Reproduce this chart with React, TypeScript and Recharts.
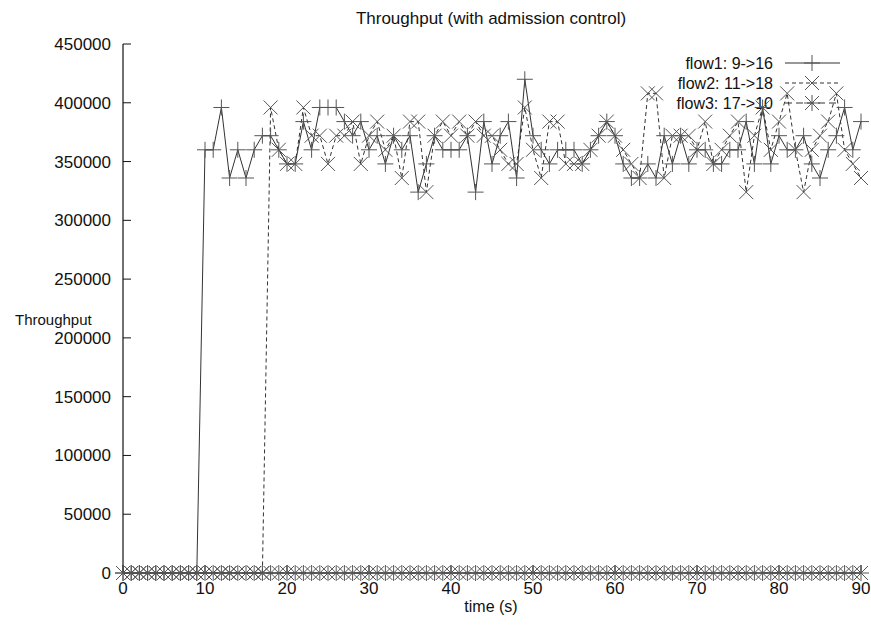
import React from 'react';
import { LineChart, Line, XAxis, YAxis, Customized } from 'recharts';

// sample times (s)
const TIME = [
  0, 1, 2, 3, 4, 5, 6, 7, 8, 9, 10, 11, 12, 13, 14, 15, 16, 17, 18, 19,
  20, 21, 22, 23, 24, 25, 26, 27, 28, 29, 30, 31, 32, 33, 34, 35, 36, 37, 38, 39,
  40, 41, 42, 43, 44, 45, 46, 47, 48, 49, 50, 51, 52, 53, 54, 55, 56, 57, 58, 59,
  60, 61, 62, 63, 64, 65, 66, 67, 68, 69, 70, 71, 72, 73, 74, 75, 76, 77, 78, 79,
  80, 81, 82, 83, 84, 85, 86, 87, 88, 89, 90,
];

// flow1: 9->16
const FLOW1 = [
  0, 0, 0, 0, 0, 0, 0, 0, 0, 0,
  360000, 360000, 396000, 336000, 360000, 336000, 360000, 372000, 372000, 360000,
  348000, 348000, 384000, 360000, 396000, 396000, 396000, 384000, 372000, 384000,
  360000, 372000, 348000, 372000, 360000, 372000, 324000, 348000, 372000, 360000,
  360000, 360000, 372000, 324000, 384000, 348000, 372000, 384000, 336000, 420000,
  372000, 360000, 348000, 360000, 360000, 360000, 348000, 360000, 372000, 384000,
  372000, 348000, 336000, 336000, 348000, 336000, 372000, 348000, 372000, 348000,
  360000, 360000, 348000, 348000, 360000, 360000, 384000, 348000, 396000, 348000,
  372000, 360000, 360000, 372000, 348000, 336000, 360000, 372000, 396000, 360000,
  384000,
];

// flow2: 11->18
const FLOW2 = [
  0, 0, 0, 0, 0, 0, 0, 0, 0, 0,
  0, 0, 0, 0, 0, 0, 0, 0, 396000, 360000,
  348000, 348000, 396000, 372000, 372000, 348000, 372000, 372000, 384000, 348000,
  372000, 384000, 360000, 372000, 336000, 384000, 384000, 324000, 372000, 384000,
  372000, 384000, 372000, 384000, 372000, 372000, 360000, 348000, 348000, 396000,
  360000, 336000, 384000, 384000, 348000, 348000, 348000, 360000, 372000, 384000,
  372000, 360000, 348000, 336000, 408000, 408000, 336000, 372000, 372000, 372000,
  360000, 384000, 348000, 360000, 372000, 384000, 324000, 372000, 396000, 360000,
  384000, 408000, 360000, 324000, 360000, 372000, 384000, 408000, 360000, 348000,
  336000,
];

// flow3: 17->10 (rejected)
const FLOW3 = [
  0, 0, 0, 0, 0, 0, 0, 0, 0, 0, 0, 0, 0, 0, 0, 0, 0, 0, 0, 0,
  0, 0, 0, 0, 0, 0, 0, 0, 0, 0, 0, 0, 0, 0, 0, 0, 0, 0, 0, 0,
  0, 0, 0, 0, 0, 0, 0, 0, 0, 0, 0, 0, 0, 0, 0, 0, 0, 0, 0, 0,
  0, 0, 0, 0, 0, 0, 0, 0, 0, 0, 0, 0, 0, 0, 0, 0, 0, 0, 0, 0,
  0, 0, 0, 0, 0, 0, 0, 0, 0, 0, 0,
];

const X_TICKS = [0, 10, 20, 30, 40, 50, 60, 70, 80, 90];
const Y_TICKS = [0, 50000, 100000, 150000, 200000, 250000, 300000, 350000, 400000, 450000];

const SERIES = [
  { key: 'flow1', name: 'flow1: 9->16', marker: 'plus', dash: undefined },
  { key: 'flow2', name: 'flow2: 11->18', marker: 'cross', dash: '4 3' },
  { key: 'flow3', name: 'flow3: 17->10', marker: 'star', dash: '7 4' },
];

const FONT = "'Liberation Sans', Arial, sans-serif";
const LINE_COLOR = '#333';
const MARK_COLOR = '#555';
const M = 8;

const markerPath = (shape: string, cx: number, cy: number) => {
  const plus = `M${cx - M},${cy}H${cx + M}M${cx},${cy - M}V${cy + M}`;
  const d = M - 1;
  const cross = `M${cx - d},${cy - d}L${cx + d},${cy + d}M${cx + d},${cy - d}L${cx - d},${cy + d}`;
  if (shape === 'plus') return plus;
  if (shape === 'cross') return cross;
  return plus + cross;
};

const makeDot = (shape: string, id: string) => (props: any) => {
  const { cx, cy, index } = props;
  if (cx == null || cy == null) return <g key={`${id}-${index}`} />;
  return (
    <path
      key={`${id}-${index}`}
      d={markerPath(shape, cx, cy)}
      stroke={MARK_COLOR}
      strokeWidth={1}
      fill="none"
    />
  );
};

const Overlay = () => (
  <g fontFamily={FONT} fill="#111">
    <text x={491} y={18} fontSize={17} textAnchor="middle" dominantBaseline="central">
      Throughput (with admission control)
    </text>
    <text x={15} y={319} fontSize={15} dominantBaseline="central">Throughput</text>
    <text x={491} y={606} fontSize={16} textAnchor="middle" dominantBaseline="central">time (s)</text>
    {SERIES.map((s, i) => {
      const y = 63 + i * 20;
      return (
        <g key={s.key}>
          <text x={773} y={y} fontSize={16} textAnchor="end" dominantBaseline="central">{s.name}</text>
          <line x1={785} x2={840} y1={y} y2={y} stroke={LINE_COLOR} strokeDasharray={s.dash} />
          <path d={markerPath(s.marker, 812, y)} stroke={MARK_COLOR} fill="none" />
        </g>
      );
    })}
  </g>
);

export default function App() {
  const data = TIME.map((t, i) => ({ t, flow1: FLOW1[i], flow2: FLOW2[i], flow3: FLOW3[i] }));
  const tickStyle = { fontSize: 17, fontFamily: FONT, fill: '#111' };
  const axisLine = { stroke: '#111', strokeWidth: 1.2 };

  return (
    <div style={{ position: 'absolute', left: 0, top: 0, background: '#fff' }}>
      <LineChart width={871} height={628} data={data} margin={{ top: 44, right: 10, left: 0, bottom: 0 }}>
        <XAxis
          dataKey="t"
          type="number"
          domain={[0, 90]}
          ticks={X_TICKS}
          interval={0}
          height={55}
          tickSize={-8}
          tickMargin={17}
          tick={tickStyle}
          axisLine={axisLine}
          tickLine={{ stroke: '#111' }}
        />
        <XAxis
          xAxisId="top"
          orientation="top"
          type="number"
          domain={[0, 90]}
          ticks={X_TICKS}
          height={0}
          tickSize={-8}
          tick={false}
          axisLine={axisLine}
          tickLine={{ stroke: '#111' }}
        />
        <YAxis
          type="number"
          domain={[0, 450000]}
          ticks={Y_TICKS}
          interval={0}
          width={123}
          tickSize={-8}
          tickMargin={20}
          tick={tickStyle}
          axisLine={axisLine}
          tickLine={{ stroke: '#111' }}
        />
        <YAxis
          yAxisId="right"
          orientation="right"
          type="number"
          domain={[0, 450000]}
          ticks={Y_TICKS}
          width={0}
          tickSize={-8}
          tick={false}
          axisLine={axisLine}
          tickLine={{ stroke: '#111' }}
        />
        {SERIES.map((s) => (
          <Line
            key={s.key}
            dataKey={s.key}
            type="linear"
            stroke={LINE_COLOR}
            strokeWidth={1}
            strokeDasharray={s.dash}
            dot={makeDot(s.marker, s.key)}
            activeDot={false}
            isAnimationActive={false}
          />
        ))}
        <Customized component={Overlay} />
      </LineChart>
    </div>
  );
}
